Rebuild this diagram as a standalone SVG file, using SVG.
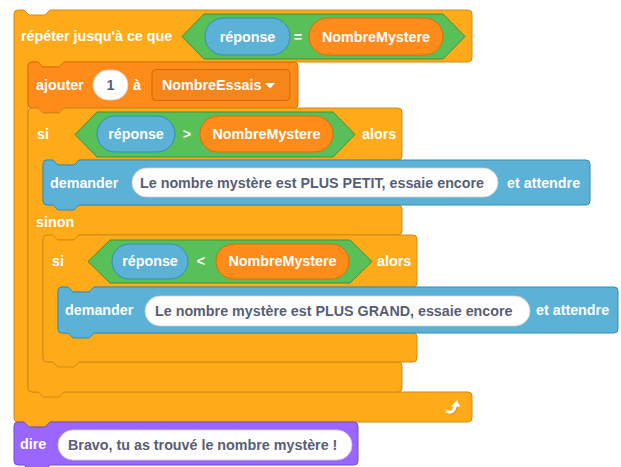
<svg xmlns="http://www.w3.org/2000/svg" width="621" height="467" viewBox="0 0 621 467">
<style>
.ctl{fill:#FFAB19;stroke:#CF8B17;stroke-width:1}
.var{fill:#FF8C1A;stroke:#DB6E00;stroke-width:1}
.op{fill:#59C059;stroke:#389438;stroke-width:1}
.sen{fill:#5CB1D6;stroke:#2E8EB8;stroke-width:1}
.lk{fill:#9966FF;stroke:#774DCB;stroke-width:1}
.wp{fill:#FFFFFF;stroke:#D0D0D0;stroke-width:0.8}
.dd{fill:#F7861A;stroke:#CF6A00;stroke-width:1}
text{font-family:"Liberation Sans",Arial,sans-serif;font-weight:bold;font-size:14.3px}
.w{fill:#FFFFFF}
.dk{fill:#575E75}
.m{text-anchor:middle}
</style>
<rect width="621" height="467" fill="#FFFFFF"/>

<g id="repeat">
<path class="ctl" d="M14,14 Q14,10 18,10 H24 L29,15 H45 L50,10 H468 Q472,10 472,14 V58 Q472,62 468,62 H64 L59,67 H43 L38,62 H32 Q28,62 28,66 V388 Q28,392 32,392 H468 Q472,392 472,396 V418 Q472,422 468,422 H50 L45,427 H29 L24,422 H18 Q14,422 14,418 Z"/>
<text class="w" x="21" y="41">répéter jusqu'à ce que</text>
<polygon class="op" points="182,36.5 204,14 443,14 465,36.5 443,59 204,59"/>
<rect class="sen" x="205" y="18" width="85" height="37" rx="18.5"/>
<text class="w m" x="247.5" y="41.5">réponse</text>
<text class="w m" x="298" y="41.5">=</text>
<rect class="var" x="309" y="18" width="134" height="37" rx="18.5"/>
<text class="w m" x="376" y="41.5">NombreMystere</text>
<g id="loop-icon">
<path d="M446,411 Q453,415 455.5,406" fill="none" stroke="#CF8B17" stroke-width="3" transform="translate(0.8,0.8)"/>
<path d="M446,411 Q453,415 455.5,406" fill="none" stroke="#FFFFFF" stroke-width="3"/>
<polygon points="451,407 460,406.5 457,400" fill="#FFFFFF"/>
</g>
</g>

<g id="ajouter">
<path class="var" d="M28,66 Q28,62 32,62 H38 L43,67 H59 L64,62 H294 Q298,62 298,66 V104 Q298,108 294,108 H64 L59,113 H43 L38,108 H32 Q28,108 28,104 Z"/>
<text class="w" x="36" y="90">ajouter</text>
<rect class="wp" x="93" y="70" width="35" height="30" rx="15"/>
<text class="dk m" x="110.5" y="90">1</text>
<text class="w" x="133" y="90">à</text>
<rect class="dd" x="152" y="69.5" width="138" height="31" rx="4"/>
<text class="w" x="162" y="90">NombreEssais</text>
<polygon points="265,83 275,83 270,88.5" fill="#FFFFFF"/>
</g>

<g id="si-sinon">
<path class="ctl" d="M28,112 Q28,108 32,108 H38 L43,113 H59 L64,108 H398 Q402,108 402,112 V156 Q402,160 398,160 H79 L74,165 H58 L53,160 H47 Q43,160 43,164 V201 Q43,205 47,205 H398 Q402,205 402,209 V231 Q402,235 398,235 H79 L74,240 H58 L53,235 H47 Q43,235 43,239 V358 Q43,362 47,362 H398 Q402,362 402,366 V388 Q402,392 398,392 H64 L59,397 H43 L38,392 H32 Q28,392 28,388 Z"/>
<text class="w" x="37" y="139">si</text>
<polygon class="op" points="75,134.5 97,112 333,112 355,134.5 333,157 97,157"/>
<rect class="sen" x="97" y="116" width="78" height="36" rx="18"/>
<text class="w m" x="136" y="139">réponse</text>
<text class="w m" x="187" y="139">&gt;</text>
<rect class="var" x="200" y="116" width="133" height="36" rx="18"/>
<text class="w m" x="266.5" y="139">NombreMystere</text>
<text class="w" x="362" y="139">alors</text>
<text class="w" x="36" y="227">sinon</text>
</g>

<g id="demander-petit">
<path class="sen" d="M43,164 Q43,160 47,160 H53 L58,165 H74 L79,160 H586 Q590,160 590,164 V201 Q590,205 586,205 H79 L74,210 H58 L53,205 H47 Q43,205 43,201 Z"/>
<text class="w" x="50" y="188">demander</text>
<rect class="wp" x="132" y="168" width="366" height="29" rx="14.5"/>
<text class="dk" x="140" y="188">Le nombre mystère est PLUS PETIT, essaie encore</text>
<text class="w" x="507" y="188">et attendre</text>
</g>

<g id="si-inner">
<path class="ctl" d="M43,239 Q43,235 47,235 H53 L58,240 H74 L79,235 H413 Q417,235 417,239 V283 Q417,287 413,287 H94 L89,292 H73 L68,287 H62 Q58,287 58,291 V329 Q58,333 62,333 H413 Q417,333 417,337 V358 Q417,362 413,362 H79 L74,367 H58 L53,362 H47 Q43,362 43,358 Z"/>
<text class="w" x="52" y="266">si</text>
<polygon class="op" points="88,261.5 110,240 350,240 372,261.5 350,283 110,283"/>
<rect class="sen" x="112" y="244" width="76" height="35" rx="17.5"/>
<text class="w m" x="150" y="266">réponse</text>
<text class="w m" x="201" y="266">&lt;</text>
<rect class="var" x="216" y="244" width="133" height="35" rx="17.5"/>
<text class="w m" x="282.5" y="266">NombreMystere</text>
<text class="w" x="377" y="266">alors</text>
</g>

<g id="demander-grand">
<path class="sen" d="M58,291 Q58,287 62,287 H68 L73,292 H89 L94,287 H614 Q618,287 618,291 V329 Q618,333 614,333 H94 L89,338 H73 L68,333 H62 Q58,333 58,329 Z"/>
<text class="w" x="65" y="315">demander</text>
<rect class="wp" x="145" y="296" width="385" height="30" rx="15"/>
<text class="dk" x="155" y="315.5">Le nombre mystère est PLUS GRAND, essaie encore</text>
<text class="w" x="536" y="315">et attendre</text>
</g>

<g id="dire">
<path class="lk" d="M14,426 Q14,422 18,422 H24 L29,427 H45 L50,422 H354 Q358,422 358,426 V461 Q358,465 354,465 H50 L45,470 H29 L24,465 H18 Q14,465 14,461 Z"/>
<text class="w" x="20" y="449">dire</text>
<rect class="wp" x="58" y="430" width="294" height="30" rx="15"/>
<text class="dk" x="68" y="449.5">Bravo, tu as trouvé le nombre mystère !</text>
</g>
</svg>
